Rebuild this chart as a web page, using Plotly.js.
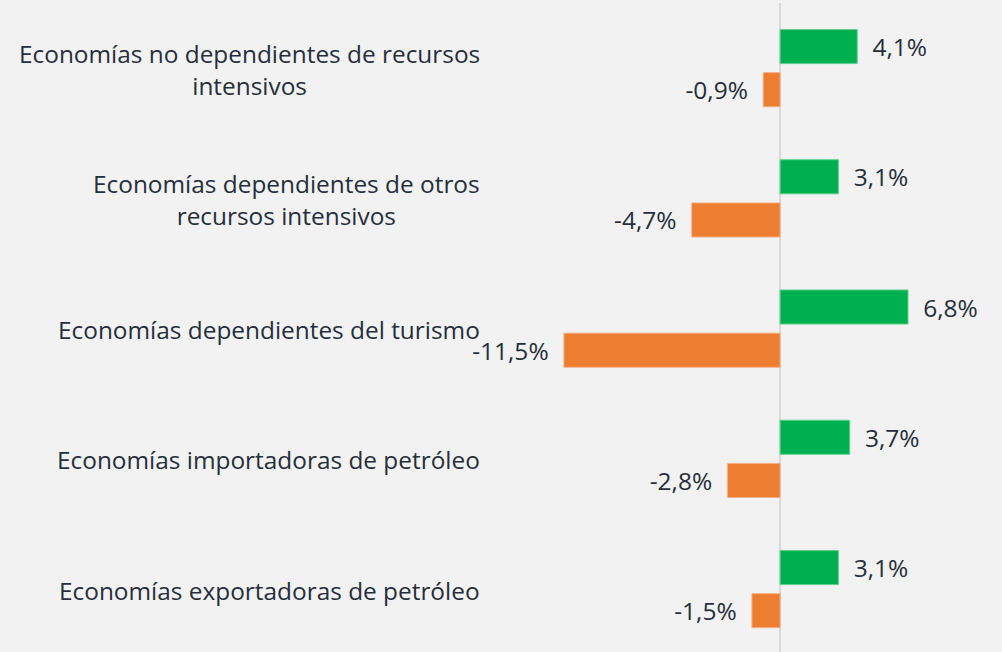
<!DOCTYPE html>
<html><head><meta charset="utf-8">
<script src="https://cdn.plot.ly/plotly-3.0.1.min.js"></script>
<style>html,body{margin:0;padding:0;background:#f2f2f2;}</style>
</head><body>
<div id="chart" style="width:1002px;height:652px;"></div>
<script>
var categories = [
  "Economías no dependientes de recursos<br>intensivos",
  "Economías dependientes de otros<br>recursos intensivos",
  "Economías dependientes del turismo",
  "Economías importadoras de petróleo",
  "Economías exportadoras de petróleo"
];
var greenValues = [4.1, 3.1, 6.8, 3.7, 3.1];
var orangeValues = [-0.9, -4.7, -11.5, -2.8, -1.5];

var FONT = "'Open Sans', sans-serif";
var TXT = "#262f3b";

var traces = [
  {type:'bar', orientation:'h', y:categories, x:greenValues, name:'g',
   marker:{color:'#00b050', line:{color:'#5fd08f', width:1}},
   texttemplate:'\u2002%{x:.1f}%', textposition:'outside', cliponaxis:false,
   textfont:{family:FONT, size:24.5, color:TXT}, hoverinfo:'skip'},
  {type:'bar', orientation:'h', y:categories, x:orangeValues, name:'o',
   marker:{color:'#ed7d31', line:{color:'#f5b08a', width:1}},
   texttemplate:'%{x:.1f}%\u2002', textposition:'outside', cliponaxis:false,
   textfont:{family:FONT, size:24.5, color:TXT}, hoverinfo:'skip'}
];

var annotations = categories.map(function(c){
  return {xref:'paper', yref:'y', x:0, y:c, xanchor:'right', yanchor:'middle',
    xshift:-8, yshift:-1, text:c, showarrow:false, align:'center',
    font:{family:FONT, size:24.4, color:TXT}};
});

var layout = {
  width:1002, height:652,
  paper_bgcolor:'#f2f2f2', plot_bgcolor:'#f2f2f2',
  margin:{l:490, r:0, t:3, b:0},
  barmode:'group', bargap:0.337, bargroupgap:0.21,
  separators:',.',
  showlegend:false,
  xaxis:{range:[-15.43, 11.8], showgrid:false, showticklabels:false, ticks:'',
    zeroline:true, zerolinecolor:'#d9d9d9', zerolinewidth:2, fixedrange:true},
  yaxis:{range:[4.483, -0.5], showticklabels:false, ticks:'', showgrid:false,
    zeroline:false, fixedrange:true},
  annotations:annotations
};
Plotly.newPlot('chart', traces, layout, {displayModeBar:false, staticPlot:true});
</script>
</body></html>
